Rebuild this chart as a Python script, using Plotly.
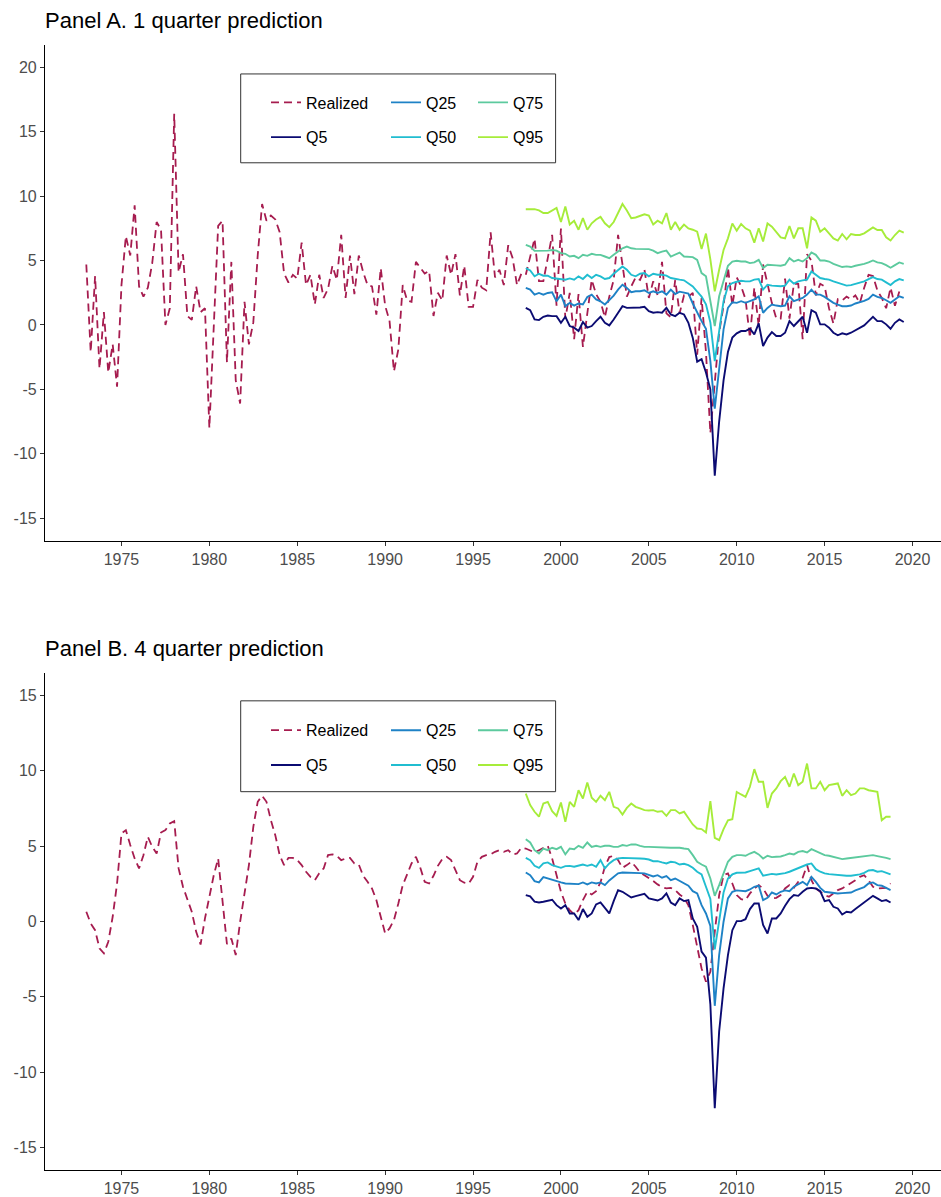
import plotly.graph_objects as go

# ---------------- data ----------------
REAL_A_START = 1973.0
realized_a = [4.7, -2.1, 3.8,
    -3.4, 1.0, -3.7, -1.5, -4.8, 3.1, 6.9, 5.4, 9.3, 3.0, 2.2, 2.9,
    4.8, 8.0, 7.4, 0.0, 1.3, 16.4, 4.1, 5.5, 0.7, 0.4, 3.0, 1.0,
    1.3, -8.0, -0.5, 7.7, 8.1, -2.9, 4.9, -4.3, -6.1, 1.8, -1.5, 0.2,
    5.4, 9.4, 8.1, 8.5, 8.2, 7.2, 4.0, 3.3, 3.9, 3.6, 6.4, 3.1,
    3.9, 1.6, 3.9, 2.1, 2.8, 4.6, 3.5, 7.0, 2.1, 5.4, 2.4, 5.4,
    4.1, 3.1, 3.0, 0.8, 4.4, 1.5, 0.3, -3.6, -1.9, 3.1, 1.9, 1.8,
    4.9, 4.4, 4.0, 4.2, 0.7, 2.5, 1.9, 5.4, 3.9, 5.5, 2.3, 4.6,
    1.4, 1.4, 3.5, 2.9, 2.7, 7.2, 3.7, 4.3, 3.1, 6.2, 5.2, 3.1,
    4.0, 3.9, 5.3, 6.7, 3.4, 3.4, 5.2, 7.0, 1.5, 7.5, 0.5, 2.5,
    -1.1, 2.4, -1.7, 1.1, 3.5, 2.4, 1.8, 0.6, 2.2, 3.5, 7.0, 4.7,
    2.2, 3.0, 3.7, 3.5, 4.3, 2.1, 3.4, 2.3, 4.9, 0.9, 0.6, 3.5,
    0.9, 2.3, 2.2, 2.5, -2.3, 2.1, -2.1, -8.4, -4.4, -0.6, 1.5, 4.5,
    1.5, 3.7, 3.0, 2.0, -1.0, 2.9, -0.1, 4.7, 3.2, 1.7, 0.5, 0.5,
    3.6, 0.5, 3.2, 3.2, -1.1, 5.5, 5.0, 2.3, 3.2, 3.0, 1.3, 0.1,
    2.0, 1.9, 2.2, 2.0, 2.3, 1.7, 2.9, 3.9, 3.8, 2.7, 2.1, 1.3,
    2.9, 1.5, 2.6]

Q_START = 1998.0
q5_a = [1.33, 1.15, 0.43, 0.38, 0.64, 0.74, 0.69, 0.69, 0.17, 0.64,
    -0.08, -0.21, -0.47, 0.23, -0.21, -0.08, 0.3, 0.64, 0.17, -0.03,
    0.43, 1.0, 1.46, 1.33, 1.33, 1.33, 1.36, 1.41, 1.08, 0.95,
    1.0, 0.95, 1.33, 0.82, 0.69, 0.95, 0.82, 0.17, -1.0, -2.85,
    -2.66, -3.69, -5.0, -11.7, -7.5, -4.3, -2.1, -0.98, -0.65, -0.47,
    -0.47, -0.29, -0.73, 0.12, -1.63, -0.98, -0.55, -0.85, -0.85, -0.6,
    0.3, -0.08, 0.3, 0.64, -0.6, 1.15, 0.95, 0.05, 0.05, -0.21,
    -0.6, -0.8, -0.65, -0.73, -0.6, -0.39, -0.24, -0.03, 0.3, 0.64,
    0.3, 0.3, 0.05, -0.29, 0.17, 0.43, 0.23]
q25_a = [2.88, 2.75, 2.36, 2.49, 2.36, 2.49, 2.54, 1.84, 2.36, 1.46,
    1.72, 1.51, 1.67, 1.59, 2.18, 2.36, 1.98, 1.84, 1.59, 1.92,
    2.28, 2.75, 3.13, 2.88, 2.54, 2.62, 2.62, 2.7, 2.49, 2.62,
    2.49, 2.62, 2.36, 2.75, 2.41, 2.59, 2.49, 2.44, 1.67, 0.95,
    0.3, -0.3, -2.8, -6.5, -3.17, -0.34, 1.33, 1.77, 1.72, 1.85,
    1.72, 1.85, 1.98, 2.23, 0.95, 1.33, 1.59, 1.51, 1.46, 1.51,
    2.23, 1.85, 1.98, 2.1, 2.36, 2.75, 2.36, 2.36, 2.18, 1.92,
    1.72, 1.59, 1.46, 1.46, 1.51, 1.67, 1.77, 1.87, 2.03, 2.36,
    2.18, 2.1, 1.92, 1.72, 1.98, 2.23, 2.1]
q50_a = [4.42, 4.24, 3.78, 3.98, 3.83, 3.83, 3.65, 3.6, 3.57, 3.52,
    3.62, 3.52, 3.78, 3.57, 3.9, 3.65, 3.9, 3.78, 3.57, 3.65,
    3.98, 4.29, 4.55, 4.29, 3.9, 3.78, 3.98, 4.03, 3.78, 3.98,
    3.9, 3.9, 3.83, 3.65, 3.57, 3.52, 3.47, 3.26, 3.0, 2.6,
    2.2, 1.6, 0.2, -2.8, -0.34, 1.85, 3.01, 3.26, 3.36, 3.44,
    3.39, 3.39, 3.52, 3.57, 2.75, 3.13, 3.06, 3.01, 3.01, 3.06,
    3.52, 3.21, 3.39, 3.47, 3.52, 4.16, 3.9, 3.65, 3.57, 3.52,
    3.39, 3.26, 3.13, 3.06, 3.1, 3.21, 3.31, 3.39, 3.57, 3.72,
    3.57, 3.52, 3.31, 3.1, 3.39, 3.57, 3.47]
q75_a = [6.22, 6.09, 5.76, 5.76, 5.78, 5.78, 5.83, 5.78, 5.58, 5.53,
    5.32, 5.37, 5.19, 5.45, 5.37, 5.53, 5.45, 5.45, 5.32, 5.19,
    5.45, 5.7, 5.96, 6.09, 5.96, 5.91, 5.89, 5.89, 5.89, 5.78,
    5.58, 5.7, 5.78, 5.32, 5.45, 5.63, 5.32, 5.32, 5.27, 5.06,
    4.03, 3.78, 1.97, -0.08, 2.23, 3.52, 4.6, 4.93, 4.99, 4.93,
    4.93, 4.81, 4.86, 5.06, 4.42, 4.68, 4.68, 4.63, 4.6, 4.68,
    5.19, 4.93, 5.06, 4.93, 5.19, 5.63, 5.45, 5.01, 5.01, 4.93,
    4.75, 4.6, 4.5, 4.55, 4.5, 4.6, 4.65, 4.75, 4.86, 5.01,
    4.86, 4.81, 4.65, 4.45, 4.65, 4.86, 4.75]
q95_a = [8.99, 8.97, 9.0, 8.9, 8.7, 8.7, 8.9, 9.1, 8.0, 9.2,
    7.8, 8.1, 7.4, 8.3, 7.4, 7.9, 8.2, 8.4, 7.9, 7.6,
    8.0, 8.7, 9.4, 8.9, 8.3, 8.35, 8.5, 8.6, 8.5, 7.8,
    8.1, 7.9, 8.7, 7.4, 8.0, 7.4, 7.8, 7.5, 7.4, 7.25,
    5.9, 7.1, 5.1, 2.62, 4.29, 5.83, 6.73, 7.89, 7.33, 7.84,
    7.51, 7.33, 6.4, 7.51, 6.48, 7.89, 7.64, 7.25, 6.81, 6.73,
    7.69, 6.73, 7.51, 7.51, 5.96, 8.36, 8.1, 7.25, 7.51, 7.12,
    6.73, 6.56, 7.07, 6.66, 7.07, 6.99, 6.99, 7.12, 7.38, 7.58,
    7.38, 7.38, 6.81, 6.56, 6.99, 7.33, 7.17]

REAL_B_START = 1973.0
realized_b = [0.64, -0.13, -0.58, -1.79, -2.12, -1.35, 0.31, 2.52, 5.84, 6.06,
    5.07, 4.18, 3.52, 4.4, 5.62, 4.95, 4.51, 5.9, 6.06, 6.5,
    6.66, 3.52, 2.3, 1.42, 0.64, -0.69, -1.53, 0.2, 1.64, 3.07,
    4.18, 1.5, -1.5, -1.13, -2.23, -0.02, 1.75, 3.74, 6.28, 7.94,
    8.34, 7.94, 6.72, 5.73, 4.4, 3.74, 4.22, 4.22, 4.07, 3.74,
    3.3, 2.96, 2.74, 3.2, 3.52, 4.4, 4.45, 4.36, 4.07, 4.18,
    4.22, 3.85, 3.78, 3.03, 2.63, 2.19, 1.42, 0.31, -0.8, -0.46,
    0.09, 1.19, 2.41, 3.12, 3.85, 4.29, 3.56, 2.63, 2.52, 3.03,
    3.69, 4.14, 4.29, 4.07, 3.34, 2.74, 2.57, 2.52, 2.96, 3.96,
    4.29, 4.4, 4.45, 4.62, 4.73, 4.62, 4.73, 4.45, 4.51, 4.89,
    4.84, 4.73, 4.58, 4.73, 4.89, 5.02, 4.18, 3.07, 1.97, 1.19,
    0.75, 0.46, 0.75, 1.42, 1.97, 1.79, 2.01, 2.59, 3.63, 4.27,
    4.36, 4.07, 3.56, 3.74, 3.96, 3.63, 3.25, 3.07, 2.9, 2.68,
    2.46, 2.28, 2.19, 2.23, 2.08, 1.79, 1.57, 1.08, -0.24, -1.57,
    -3.12, -4.0, -3.34, -0.69, 1.75, 3.07, 3.19, 2.52, 1.75, 1.48,
    1.42, 1.86, 2.19, 2.41, 2.19, 1.7, 1.53, 1.57, 1.75, 2.19,
    2.41, 2.23, 2.63, 2.9, 3.74, 2.74, 2.19, 1.97, 1.75, 1.64,
    1.86, 2.08, 2.19, 2.37, 2.52, 2.74, 2.96, 3.07, 2.74, 2.3,
    2.19, 2.19, 2.23, 2.52]

q5_b = [1.75, 1.66, 1.31, 1.26, 1.31, 1.35, 1.44, 1.08, 0.86, 1.08,
    0.53, 0.53, 0.09, 0.82, 0.31, 0.53, 1.13, 1.26, 0.91, 0.53,
    1.35, 2.08, 1.97, 1.79, 1.59, 1.68, 1.75, 1.84, 1.53, 1.48,
    1.39, 1.53, 1.86, 1.26, 1.08, 1.53, 1.35, 1.42, 0.2, -0.35,
    -2.0, -2.4, -5.5, -12.4, -7.3, -4.45, -2.23, -0.58, 0.02, 0.02,
    0.15, 0.82, 1.19, 1.19, -0.24, -0.8, 0.2, 0.2, 0.53, 1.04,
    1.48, 1.75, 1.7, 1.97, 2.19, 2.23, 2.19, 2.01, 1.35, 1.42,
    0.97, 0.86, 0.46, 0.64, 0.6, 0.82, 1.04, 1.26, 1.48, 1.7,
    1.53, 1.35, 1.42, 1.26]
q25_b = [3.25, 3.07, 2.68, 2.59, 2.94, 2.85, 2.72, 2.63, 2.59, 2.52,
    2.5, 2.46, 2.48, 2.59, 2.46, 2.59, 2.52, 2.59, 2.41, 2.72,
    2.94, 3.19, 3.25, 3.25, 3.25, 3.25, 3.21, 3.19, 3.07, 2.99,
    3.07, 2.9, 3.01, 2.74, 2.85, 2.68, 2.54, 2.37, 2.01, 1.86,
    1.08, 0.53, -0.3, -5.6, -2.23, -0.02, 1.53, 1.97, 2.06, 2.01,
    2.01, 2.12, 2.3, 2.37, 1.42, 1.57, 1.92, 1.79, 1.97, 2.06,
    2.01, 2.3, 2.46, 2.63, 2.41, 2.96, 2.63, 2.23, 1.97, 1.92,
    1.88, 1.86, 1.88, 1.92, 1.92, 2.06, 2.19, 2.28, 2.52, 2.59,
    2.41, 2.37, 2.23, 2.08]
q50_b = [4.22, 4.07, 3.69, 3.56, 3.85, 3.92, 3.74, 3.63, 3.56, 3.67,
    3.69, 3.63, 3.69, 3.78, 3.69, 3.78, 3.63, 4.07, 3.52, 3.85,
    4.07, 4.18, 4.22, 4.22, 4.22, 4.2, 4.18, 4.16, 4.11, 4.0,
    4.0, 3.92, 3.85, 3.96, 3.92, 3.78, 3.83, 3.74, 3.56, 3.3,
    3.12, 2.3, 1.5, -1.85, 0.09, 1.92, 2.85, 3.12, 3.23, 3.25,
    3.25, 3.34, 3.41, 3.52, 3.03, 3.07, 3.16, 3.12, 3.16, 3.21,
    3.3, 3.43, 3.56, 3.65, 3.78, 3.85, 3.47, 3.3, 3.19, 3.14,
    3.1, 3.07, 3.03, 3.03, 3.03, 3.07, 3.12, 3.23, 3.38, 3.41,
    3.3, 3.34, 3.25, 3.12]
q75_b = [5.46, 5.24, 4.73, 4.51, 4.84, 4.73, 4.89, 4.8, 4.95, 4.45,
    4.84, 4.8, 5.02, 4.89, 5.24, 4.95, 5.02, 4.95, 5.02, 5.02,
    4.95, 4.95, 5.07, 5.02, 5.11, 5.11, 5.02, 4.95, 4.95, 4.93,
    4.91, 4.89, 4.89, 4.89, 4.89, 4.89, 4.84, 4.8, 4.4, 3.96,
    3.78, 3.63, 2.85, 1.7, 2.41, 3.25, 3.96, 4.29, 4.4, 4.4,
    4.36, 4.51, 4.62, 4.45, 4.18, 4.36, 4.27, 4.29, 4.31, 4.4,
    4.51, 4.45, 4.62, 4.67, 4.58, 4.8, 4.67, 4.58, 4.4, 4.36,
    4.29, 4.18, 4.14, 4.18, 4.22, 4.27, 4.31, 4.31, 4.36, 4.4,
    4.34, 4.29, 4.22, 4.14]
q95_b = [8.49, 7.72, 7.28, 6.95, 7.83, 7.94, 7.32, 7.01, 7.9, 6.61,
    7.94, 7.61, 8.71, 8.16, 9.22, 8.21, 7.94, 8.34, 8.05, 8.6,
    7.61, 7.5, 7.1, 7.54, 7.83, 7.61, 7.5, 7.39, 7.37, 7.39,
    7.28, 7.32, 7.01, 7.39, 7.39, 7.17, 7.28, 6.88, 6.44, 6.17,
    6.13, 5.91, 7.99, 5.55, 5.4, 6.13, 6.72, 6.79, 8.6, 8.43,
    8.27, 8.94, 10.11, 9.27, 9.27, 7.54, 8.49, 8.83, 9.31, 9.6,
    8.94, 9.82, 9.05, 9.27, 10.48, 8.83, 8.83, 9.27, 8.71, 9.05,
    9.09, 9.16, 8.34, 8.71, 8.38, 8.49, 8.83, 8.83, 8.71, 8.65,
    8.6, 6.72, 6.95, 6.95]

x_ticks = [1975, 1980, 1985, 1990, 1995, 2000, 2005, 2010, 2015, 2020]
y_ticks_a = [-15, -10, -5, 0, 5, 10, 15, 20]
y_ticks_b = [-15, -10, -5, 0, 5, 10, 15]
series_names = ["Realized", "Q5", "Q25", "Q50", "Q75", "Q95"]
titles = ["Panel A. 1 quarter prediction", "Panel B. 4 quarter prediction"]

# ---------------- styling ----------------
COLORS = {"Realized": "#A61C4F", "Q5": "#0B0B72", "Q25": "#1E82C6",
          "Q50": "#20BDD0", "Q75": "#5CCA9E", "Q95": "#A6EC3A"}
FONT = "Liberation Sans, Arial, Helvetica, sans-serif"
W, H = 941, 1197
ML, MR, MT, MB = 45, 0, 45, 25
PW, PH = W - ML - MR, H - MT - MB


def px_x(p):
    return (p - ML) / PW


def px_y(p):
    return (H - MB - p) / PH


def qx(start, n):
    return [start + 0.25 * i for i in range(n)]


fig = go.Figure()

panels = [
    dict(real=realized_a, rstart=REAL_A_START,
         qs=[q5_a, q25_a, q50_a, q75_a, q95_a], xa="x", ya="y",
         legends=["legend", "legend2", "legend3"]),
    dict(real=realized_b, rstart=REAL_B_START,
         qs=[q5_b, q25_b, q50_b, q75_b, q95_b], xa="x2", ya="y2",
         legends=["legend4", "legend5", "legend6"]),
]
# legend columns: col1 Realized,Q5 ; col2 Q25,Q50 ; col3 Q75,Q95
col_of = {"Realized": 0, "Q5": 0, "Q25": 1, "Q50": 1, "Q75": 2, "Q95": 2}

for pi, p in enumerate(panels):
    fig.add_trace(go.Scatter(
        x=qx(p["rstart"], len(p["real"])), y=p["real"], mode="lines",
        name="Realized", xaxis=p["xa"], yaxis=p["ya"],
        line=dict(color=COLORS["Realized"], width=1.8, dash="8px,5px"),
        legend=p["legends"][0], legendgroup=f"p{pi}Realized", legendrank=1))
    for qi, (nm, vals) in enumerate(zip(series_names[1:], p["qs"])):
        fig.add_trace(go.Scatter(
            x=qx(Q_START, len(vals)), y=vals, mode="lines", name=nm,
            xaxis=p["xa"], yaxis=p["ya"],
            line=dict(color=COLORS[nm], width=1.9),
            legend=p["legends"][col_of[nm]], legendgroup=f"p{pi}{nm}",
            legendrank=2 + qi))

XR = [1970.65, 2021.62]
axis_common = dict(showgrid=False, zeroline=False, showline=True,
                   linecolor="black", linewidth=1.2, ticks="outside",
                   ticklen=4, tickwidth=1, tickcolor="#333333",
                   tickfont=dict(family=FONT, size=16, color="#4D4D4D"))

dom_a = [px_y(541.5), 1.0]
dom_b = [0.0, px_y(674)]

layout = dict(
    width=W, height=H, margin=dict(l=ML, r=MR, t=MT, b=MB),
    paper_bgcolor="white", plot_bgcolor="white",
    font=dict(family=FONT, color="black"),
    xaxis=dict(domain=[0, 1], anchor="y", range=XR, tickvals=x_ticks,
               ticktext=[str(v) for v in x_ticks], **axis_common),
    yaxis=dict(domain=dom_a, anchor="x", range=[-16.75, 21.75],
               tickvals=y_ticks_a, ticktext=[str(v) for v in y_ticks_a],
               **axis_common),
    xaxis2=dict(domain=[0, 1], anchor="y2", range=XR, tickvals=x_ticks,
                ticktext=[str(v) for v in x_ticks], **axis_common),
    yaxis2=dict(domain=dom_b, anchor="x2", range=[-16.5, 16.5],
                tickvals=y_ticks_b, ticktext=[str(v) for v in y_ticks_b],
                **axis_common),
)

legend_cols_px = [266, 386, 473]
legend_top_px = [85.5, 714.5]
names = ["legend", "legend2", "legend3", "legend4", "legend5", "legend6"]
for pi in range(2):
    for ci in range(3):
        layout[names[pi * 3 + ci]] = dict(
            x=px_x(legend_cols_px[ci]), y=px_y(legend_top_px[pi]),
            xref="paper", yref="paper", xanchor="left", yanchor="top",
            orientation="v", bgcolor="rgba(0,0,0,0)", borderwidth=0,
            traceorder="grouped", tracegroupgap=11, itemclick=False,
            font=dict(family=FONT, size=16, color="black"))

fig.update_layout(**layout)

# legend frames
boxes = [(240.7, 74, 555.6, 163), (240.7, 702, 555.6, 793)]
for (x0, y0, x1, y1) in boxes:
    fig.add_shape(type="rect", xref="paper", yref="paper",
                  x0=px_x(x0), x1=px_x(x1), y0=px_y(y1), y1=px_y(y0),
                  line=dict(color="#333333", width=1), fillcolor="white",
                  layer="above")

# panel titles
for t, ypx in zip(titles, [20, 650]):
    fig.add_annotation(text=t, xref="paper", yref="paper", x=px_x(43),
                       y=px_y(ypx), xanchor="left", yanchor="middle",
                       showarrow=False,
                       font=dict(family=FONT, size=22, color="black"))

fig.write_html("out.html", config={"displayModeBar": False},
               post_script="document.body.style.margin='0';"
                           "document.body.style.padding='0';")
